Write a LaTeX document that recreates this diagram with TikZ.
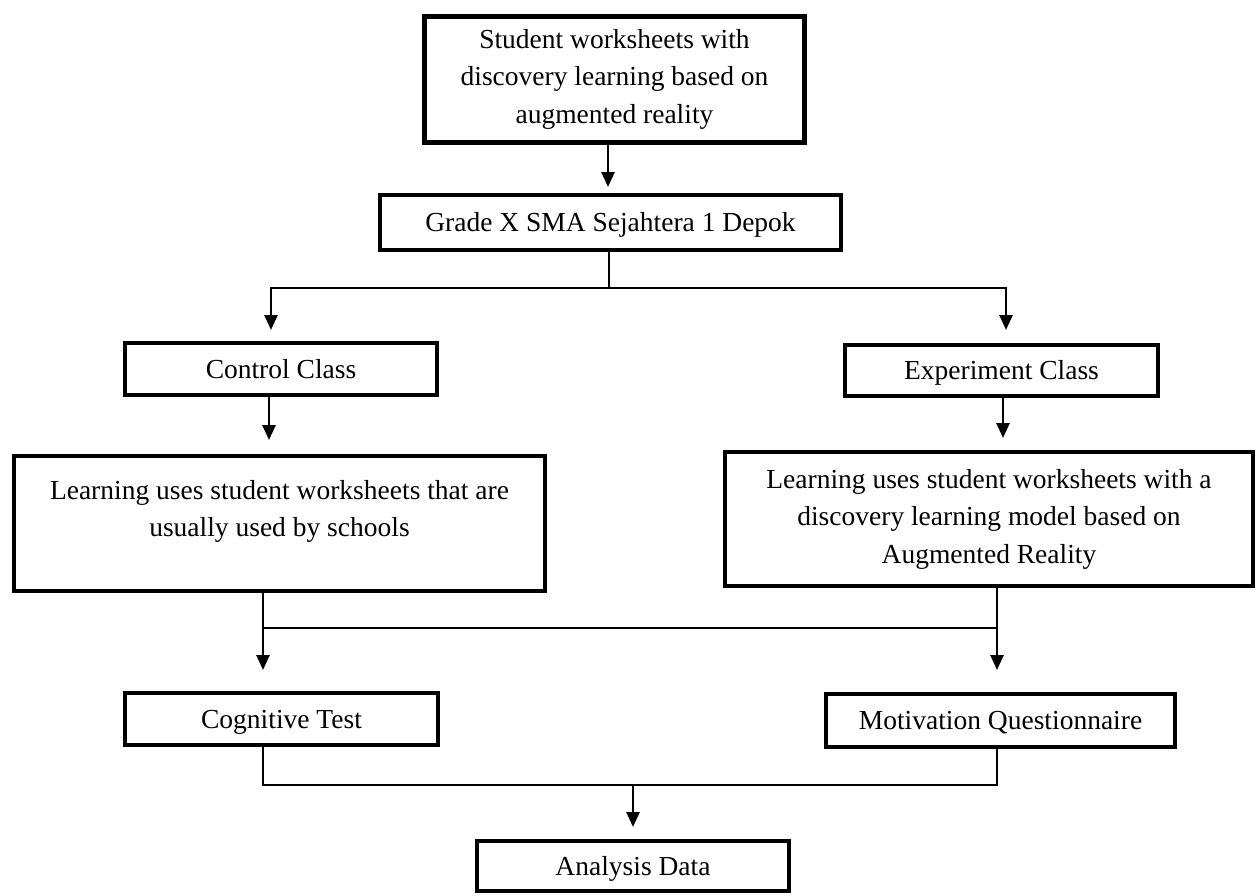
\documentclass[tikz,border=0pt]{standalone}
\usepackage{fontspec}
\setmainfont{Liberation Serif}
\usetikzlibrary{arrows.meta}

\begin{document}
\begin{tikzpicture}[
  x=1pt, y=-1pt,
  box/.style={rectangle,draw,line width=4pt,align=center,inner sep=0pt,
    font=\fontsize{27.5}{37.5}\selectfont},
  onebox/.style={box,text height=18.5pt,text depth=0pt},
  thickbox/.style={box,line width=5pt},
  link/.style={line width=2.6pt},
  arr/.style={link,-{Triangle[width=13pt,length=15pt]}},
]
\useasboundingbox (0,0) rectangle (1257,895);

% boxes
\node [thickbox,minimum width=380pt,minimum height=126pt] (sheet) at (614.5,79)
  {Student worksheets with\\discovery learning based on\\augmented reality};
\node [onebox,minimum width=461pt,minimum height=55pt] (grade) at (610.5,222.5)
  {Grade X SMA Sejahtera 1 Depok};
\node [onebox,minimum width=312pt,minimum height=52pt] (control) at (281,369) {Control Class};
\node [onebox,minimum width=313pt,minimum height=51pt] (experiment) at (1001.5,370.5) {Experiment Class};
\node [box,minimum width=531pt,minimum height=135pt,text depth=30pt] (learnctl) at (279.5,523.5)
  {Learning uses student worksheets that are\\usually used by schools};
\node [box,minimum width=528pt,minimum height=134pt] (learnexp) at (989,519)
  {Learning uses student worksheets with a\\discovery learning model based on\\Augmented Reality};
\node [onebox,minimum width=313pt,minimum height=52pt] (cognitive) at (281.5,719) {Cognitive Test};
\node [onebox,minimum width=349pt,minimum height=53pt] (motivation) at (1000.5,720.5) {Motivation Questionnaire};
\node [onebox,minimum width=312pt,minimum height=50pt] (analysis) at (633,866) {Analysis Data};

% free ends and forks
\coordinate (tipgrade) at (608,187);
\coordinate (forktop) at (609,288);
\coordinate (tipctl) at (271,330);
\coordinate (tipexp) at (1006,330);
\coordinate (tiplctl) at (269,440);
\coordinate (tiplexp) at (1003,438);
\coordinate (barmid) at (630,628);
\coordinate (tipcog) at (263,670);
\coordinate (tipmot) at (997,670);
\coordinate (barlow) at (633,785);
\coordinate (tipana) at (633,827);

% connectors
\draw[arr] (sheet.south -| tipgrade) -- (tipgrade);
\draw[link] (grade.south -| forktop) -- (forktop);
\draw[arr] (forktop) -| (tipctl);
\draw[arr] (forktop) -| (tipexp);
\draw[arr] (control.south -| tiplctl) -- (tiplctl);
\draw[arr] (experiment.south -| tiplexp) -- (tiplexp);
\draw[link] (learnctl.south -| tipcog) |- (barmid) -| (learnexp.south -| tipmot);
\draw[arr] (tipcog |- barmid) -- (tipcog);
\draw[arr] (tipmot |- barmid) -- (tipmot);
\draw[link] (cognitive.south -| tipcog) |- (barlow) -| (motivation.south -| tipmot);
\draw[arr] (barlow) -- (tipana);
\end{tikzpicture}
\end{document}
